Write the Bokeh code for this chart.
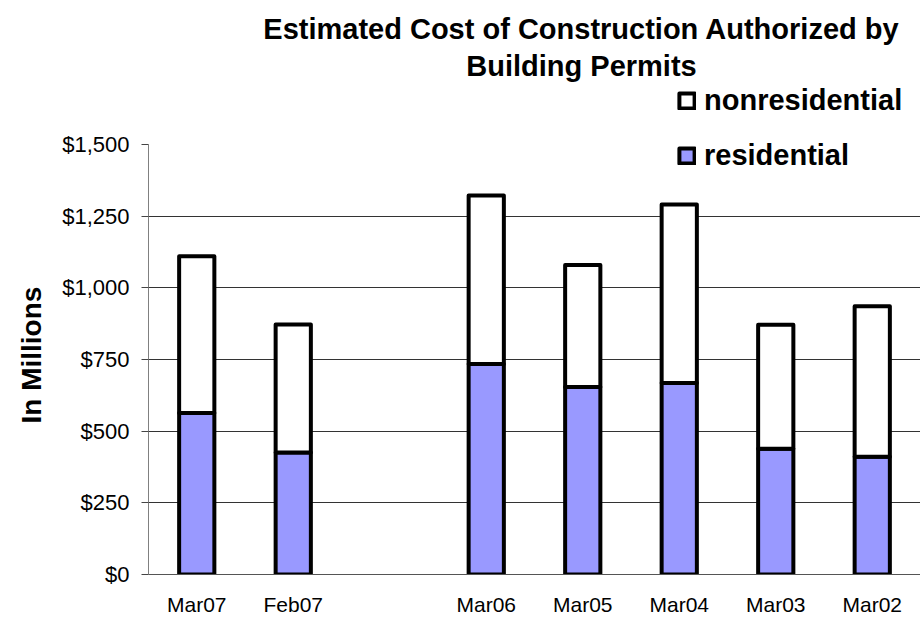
from bokeh.plotting import figure
from bokeh.models import (FactorRange, Range1d, FixedTicker, NumeralTickFormatter,
                          Legend, LegendItem, Label, Title, ColumnDataSource)
from bokeh.embed import file_html
from bokeh.resources import INLINE

categories = ["Mar07", "Feb07", " ", "Mar06", "Mar05", "Mar04", "Mar03", "Mar02"]
bar_months = ["Mar07", "Feb07", "Mar06", "Mar05", "Mar04", "Mar03", "Mar02"]
residential = [563, 426, 734, 654, 668, 439, 411]
total = [1110, 872, 1322, 1080, 1291, 871, 936]
nonresidential = [t - r for t, r in zip(total, residential)]
y_ticks = [0, 250, 500, 750, 1000, 1250, 1500]
y_max = 1500

FONT = "Liberation Sans"

W, H = 920, 618
LEFT, BOTTOM = 147, 44
FRAME_H = H - BOTTOM
AXIS_PX = 430  # pixel height of the 0..1500 span
y_end = y_max * FRAME_H / AXIS_PX

source = ColumnDataSource(dict(month=bar_months, residential=residential,
                               nonresidential=nonresidential))

p = figure(width=W, height=H, output_backend="svg", toolbar_location=None,
           x_range=FactorRange(factors=categories, range_padding=0),
           y_range=Range1d(0, y_end),
           min_border_left=LEFT, min_border_right=0, min_border_top=0,
           min_border_bottom=BOTTOM)

rs = p.vbar_stack(["residential", "nonresidential"], x="month", width=0.365,
                  color=["#9999FF", "white"], source=source)
for r in rs:
    r.glyph.line_color = "black"
    r.glyph.line_width = 4
    r.glyph.line_join = "round"

p.outline_line_color = None
p.xgrid.grid_line_color = None
p.ygrid.ticker = FixedTicker(ticks=[250, 500, 750, 1000, 1250])
p.ygrid.grid_line_color = "#333333"
p.ygrid.grid_line_width = 1

yax = p.yaxis[0]
yax.bounds = (0, y_max)
yax.ticker = FixedTicker(ticks=y_ticks)
yax.formatter = NumeralTickFormatter(format="$0,0")
yax.axis_line_color = "#808080"
yax.major_tick_line_color = "#444444"
yax.major_tick_out = 7
yax.major_tick_in = 0
yax.minor_tick_line_color = None
yax.major_label_text_font = FONT
yax.major_label_text_font_size = "22px"
yax.major_label_text_color = "black"
yax.major_label_standoff = 12

ylabel = Title(text="In Millions", align="left", offset=151, standoff=26,
               text_font=FONT, text_font_size="28px", text_font_style="bold",
               text_color="black")
p.add_layout(ylabel, "left")

xax = p.xaxis[0]
xax.axis_line_color = "#555555"
xax.major_tick_line_color = None
xax.minor_tick_line_color = None
xax.major_label_text_font = FONT
xax.major_label_text_font_size = "21px"
xax.major_label_text_color = "black"
xax.major_label_standoff = 12

legend = Legend(items=[LegendItem(label="nonresidential", renderers=[rs[1]]),
                       LegendItem(label="residential", renderers=[rs[0]])],
                location=(529, 402), orientation="vertical",
                padding=0, margin=0, spacing=22,
                glyph_width=19, glyph_height=19, label_standoff=8,
                label_text_font=FONT, label_text_font_size="29px",
                label_text_font_style="bold", label_text_color="black",
                background_fill_alpha=0, border_line_color=None)
p.add_layout(legend, "center")

for txt, yy in [("Estimated Cost of Construction Authorized by", FRAME_H - 28),
                ("Building Permits", FRAME_H - 65)]:
    p.add_layout(Label(x=433, y=yy, x_units="screen", y_units="screen", text=txt,
                       text_align="center", text_baseline="middle",
                       text_font=FONT, text_font_size="29px",
                       text_font_style="bold", text_color="black"))

open("out.html", "w").write(file_html(p, INLINE))
